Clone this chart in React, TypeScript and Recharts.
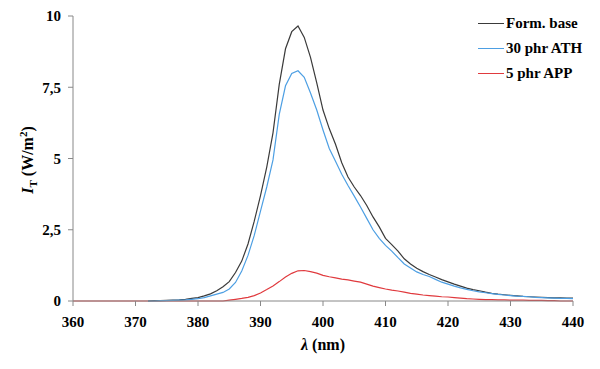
import { LineChart, Line, XAxis, YAxis, Legend } from 'recharts';

// wavelength (nm), 1 nm steps from 360 to 440
const wavelengths = [
  360, 361, 362, 363, 364, 365, 366, 367, 368, 369,
  370, 371, 372, 373, 374, 375, 376, 377, 378, 379,
  380, 381, 382, 383, 384, 385, 386, 387, 388, 389,
  390, 391, 392, 393, 394, 395, 396, 397, 398, 399,
  400, 401, 402, 403, 404, 405, 406, 407, 408, 409,
  410, 411, 412, 413, 414, 415, 416, 417, 418, 419,
  420, 421, 422, 423, 424, 425, 426, 427, 428, 429,
  430, 431, 432, 433, 434, 435, 436, 437, 438, 439,
  440,
];

// I_T (W/m2) for each formulation
const formBase = [
  null, null, null, null, null, null, null, null, null, null,
  null, null, 0.0, 0.01, 0.01, 0.02, 0.03, 0.04, 0.06, 0.09,
  0.12, 0.18, 0.25, 0.36, 0.5, 0.68, 1.0, 1.4, 2.0, 2.8,
  3.7, 4.7, 5.9, 7.6, 8.85, 9.45, 9.65, 9.25, 8.55, 7.65,
  6.7, 6.05, 5.5, 4.85, 4.35, 4.0, 3.7, 3.35, 2.95, 2.6,
  2.2, 1.98, 1.75, 1.48, 1.3, 1.15, 1.03, 0.93, 0.84, 0.75,
  0.67, 0.59, 0.52, 0.45, 0.4, 0.36, 0.31, 0.27, 0.24, 0.22,
  0.2, 0.18, 0.16, 0.15, 0.14, 0.13, 0.12, 0.11, 0.11, 0.1,
  0.1,
];

const ath30 = [
  null, null, null, null, null, null, null, null, null, null,
  null, null, 0.0, 0.0, 0.01, 0.01, 0.02, 0.03, 0.04, 0.06,
  0.08, 0.12, 0.18, 0.24, 0.3, 0.42, 0.65, 1.05, 1.6, 2.3,
  3.15, 4.0, 4.95, 6.55, 7.55, 7.98, 8.08, 7.85, 7.3, 6.7,
  6.0, 5.35, 4.9, 4.45, 4.05, 3.68, 3.3, 2.9, 2.5, 2.2,
  1.95, 1.75, 1.52, 1.3, 1.16, 1.02, 0.93, 0.86, 0.76, 0.66,
  0.59, 0.52, 0.46, 0.41, 0.36, 0.32, 0.29, 0.26, 0.23, 0.21,
  0.19, 0.17, 0.16, 0.15, 0.13, 0.12, 0.11, 0.1, 0.09, 0.09,
  0.08,
];

const app5 = [
  0, 0, 0, 0, 0, 0, 0, 0, 0, 0,
  0, 0, 0, 0, 0, 0, 0, 0, 0, 0,
  0, 0, 0, 0, 0, 0.03, 0.06, 0.09, 0.13, 0.19,
  0.28, 0.4, 0.53, 0.68, 0.84, 0.97, 1.06, 1.07, 1.03, 0.98,
  0.9, 0.85, 0.81, 0.77, 0.74, 0.7, 0.66, 0.59, 0.52, 0.47,
  0.42, 0.38, 0.35, 0.31, 0.27, 0.24, 0.21, 0.19, 0.17, 0.15,
  0.14, 0.12, 0.1, 0.08, 0.07, 0.06, 0.05, 0.05, 0.04, 0.04,
  0.03, 0.03, 0.03, 0.02, 0.02, 0.02, 0.01, 0.01, 0, 0,
  0,
];

const xTicks = [360, 370, 380, 390, 400, 410, 420, 430, 440];
const yTicks = [0, 2.5, 5, 7.5, 10];

const series = [
  { key: 'base', name: 'Form. base', color: '#3a3a3a' },
  { key: 'ath', name: '30 phr ATH', color: '#4d9fe3' },
  { key: 'app', name: '5 phr APP', color: '#e03a3e' },
];

const data = wavelengths.map((w, i) => ({
  w,
  base: formBase[i],
  ath: ath30[i],
  app: app5[i],
}));

const FONT = '"Liberation Serif", Tinos, "Times New Roman", "DejaVu Serif", serif';
const AXIS = '#888888';

const LegendBox = () => (
  <div style={{ fontFamily: FONT, fontWeight: 'bold', fontSize: 15, color: '#000' }}>
    {series.map((s) => (
      <div key={s.key} style={{ display: 'flex', alignItems: 'center', height: 25 }}>
        <span style={{ display: 'inline-block', width: 26, height: 0, borderTop: `1px solid ${s.color}`, marginRight: 2 }} />
        <span>{s.name}</span>
      </div>
    ))}
  </div>
);

const YLabel = () => (
  <text
    transform="translate(33, 160) rotate(-90)"
    textAnchor="middle"
    style={{ fontFamily: FONT }}
    fontWeight="bold"
    fontSize={16}
    fill="#000"
  >
    <tspan fontStyle="italic">I</tspan>
    <tspan fontSize={11} dy={4}>T</tspan>
    <tspan dy={-4}> (W/m</tspan>
    <tspan fontSize={11} dy={-6}>2</tspan>
    <tspan dy={6}>)</tspan>
  </text>
);

const XLabel = () => (
  <text x={323} y={350} textAnchor="middle" style={{ fontFamily: FONT }} fontWeight="bold" fontSize={16} fill="#000">
    <tspan fontStyle="italic">λ</tspan>
    <tspan> (nm)</tspan>
  </text>
);

const tickStyle = { fill: '#000', fontWeight: 'bold', fontSize: 15, style: { fontFamily: FONT } };

export default function App() {
  return (
    <div style={{ position: 'absolute', left: 0, top: 0, width: 600, height: 369, background: '#fff', fontFamily: FONT }}>
      <LineChart width={600} height={369} data={data} margin={{ top: 16, right: 27, left: 0, bottom: 0 }}>
        <XAxis
          dataKey="w"
          type="number"
          domain={[360, 440]}
          ticks={xTicks}
          height={68}
          stroke={AXIS}
          tickSize={5}
          tickMargin={10}
          tick={tickStyle}
        />
        <YAxis
          type="number"
          domain={[0, 10]}
          ticks={yTicks}
          width={73}
          stroke={AXIS}
          tickSize={5}
          tickMargin={7}
          tickFormatter={(v: number) => String(v).replace('.', ',')}
          tick={tickStyle}
        />
        <Legend
          layout="vertical"
          align="center"
          verticalAlign="middle"
          content={<LegendBox />}
          wrapperStyle={{ position: 'absolute', left: 478, top: 11, width: 120 }}
        />
        <Line dataKey="app" name="5 phr APP" stroke="#e03a3e" strokeWidth={1.2} dot={false} isAnimationActive={false} />
        <Line dataKey="base" name="Form. base" stroke="#3a3a3a" strokeWidth={1.2} dot={false} isAnimationActive={false} />
        <Line dataKey="ath" name="30 phr ATH" stroke="#4d9fe3" strokeWidth={1.2} dot={false} isAnimationActive={false} />
        <YLabel />
        <XLabel />
      </LineChart>
    </div>
  );
}
